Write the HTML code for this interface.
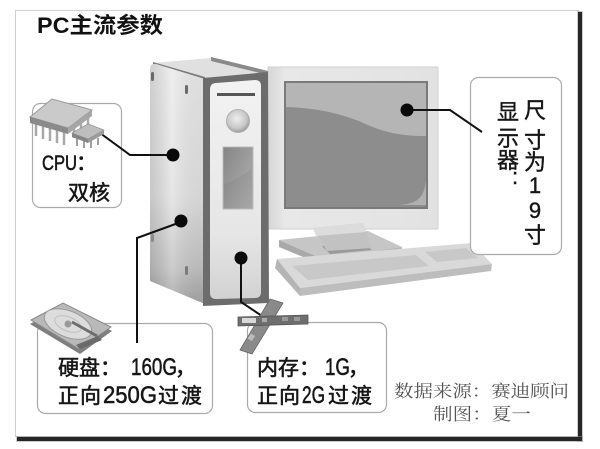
<!DOCTYPE html>
<html><head><meta charset="utf-8">
<style>
html,body{margin:0;padding:0;background:#fff;}
svg{display:block;}
.lbl{font-family:"Liberation Sans","WenQuanYi Zen Hei","Noto Sans CJK SC",sans-serif;font-size:21px;fill:#161616;stroke:#161616;stroke-width:0.55px;}
.dg{font-size:24px;}
.vt{font-family:"Liberation Sans","WenQuanYi Zen Hei","Noto Sans CJK SC",sans-serif;font-size:22px;fill:#161616;stroke:#161616;stroke-width:0.4px;}
.src{font-family:"Liberation Serif","Noto Serif CJK SC",serif;font-size:17px;fill:#555;}
</style></head>
<body>
<svg width="600" height="449" viewBox="0 0 600 449" xmlns="http://www.w3.org/2000/svg">
<defs>
<linearGradient id="side" x1="0" y1="0" x2="0" y2="1">
<stop offset="0" stop-color="#ececec"/><stop offset="0.55" stop-color="#e2e2e2"/><stop offset="0.85" stop-color="#c4c4c4"/><stop offset="1" stop-color="#a4a4a4"/>
</linearGradient>
<linearGradient id="sideh" x1="0" y1="0" x2="1" y2="0">
<stop offset="0" stop-color="#000" stop-opacity="0.12"/><stop offset="0.4" stop-color="#fff" stop-opacity="0.15"/><stop offset="1" stop-color="#000" stop-opacity="0.05"/>
</linearGradient>
<linearGradient id="front" x1="0" y1="0" x2="0" y2="1">
<stop offset="0" stop-color="#f2f2f2"/><stop offset="0.7" stop-color="#e6e6e6"/><stop offset="1" stop-color="#d2d2d2"/>
</linearGradient>
<linearGradient id="win" x1="0" y1="0" x2="1" y2="1">
<stop offset="0" stop-color="#7a7a7a"/><stop offset="0.5" stop-color="#959595"/><stop offset="1" stop-color="#a8a8a8"/>
</linearGradient>
<radialGradient id="btn" cx="0.45" cy="0.4" r="0.6">
<stop offset="0" stop-color="#eeeeee"/><stop offset="0.7" stop-color="#c8c8c8"/><stop offset="1" stop-color="#9a9a9a"/>
</radialGradient>
<linearGradient id="bezel" x1="0" y1="0" x2="1" y2="0">
<stop offset="0" stop-color="#d6d6d6"/><stop offset="0.1" stop-color="#e8e8e8"/><stop offset="1" stop-color="#e2e2e2"/>
</linearGradient>
</defs>

<!-- frame -->
<rect x="15.5" y="10.5" width="563" height="426" fill="#fff" stroke="#cfcfcf" stroke-width="1"/>
<rect x="577" y="11" width="6" height="431" fill="#9a9a9a" opacity="0.5"/>
<rect x="578" y="12" width="4" height="429" fill="#262626"/>
<rect x="16" y="436" width="567" height="6" fill="#9a9a9a" opacity="0.5"/>
<rect x="17" y="437" width="565" height="4" fill="#262626"/>

<!-- title -->
<text x="37" y="33" font-family="Liberation Sans, Noto Sans CJK SC, sans-serif" font-size="22" font-weight="bold" fill="#111" textLength="126" lengthAdjust="spacingAndGlyphs">PC主流参数</text>

<!-- monitor -->
<rect x="268" y="67" width="170" height="162" fill="url(#bezel)"/>
<rect x="268" y="67" width="170" height="162" fill="none" stroke="#d0d0d0" stroke-width="1"/>
<rect x="285" y="82" width="142" height="126" fill="#b5b5b5" stroke="#7a7a7a" stroke-width="2"/>
<path d="M286,107 C318,108 345,114 370,126 C392,135 410,136 426,136 L426,207 L286,207 Z" fill="#8d8d8d"/>
<path d="M426,180 C424,198 418,203 400,205 L426,205 Z" fill="#b0b0b0"/>

<!-- base -->
<polygon points="279,240 368,231 402,247 320,258" fill="#c6c6c6"/>
<polygon points="279,240 320,258 320,264 279,247" fill="#a9a9a9"/>
<polygon points="320,258 402,247 402,252 320,264" fill="#b7b7b7"/>
<polygon points="322,246 362,242 372,250 330,254" fill="#9a9a9a"/>
<!-- neck -->
<polygon points="313,228 363,223 372,248 327,251" fill="#c2c2c2"/>
<polygon points="313,228 363,223 366,232 316,236" fill="#dcdcdc"/>

<!-- keyboard -->
<polygon points="277,259 472,243 492,264 300,288" fill="#d9d9d9"/>
<polygon points="277,259 300,288 300,296 275,268" fill="#b4b4b4"/>
<polygon points="300,288 492,264 491,271 300,296" fill="#bdbdbd"/>
<polygon points="292,266 416,255 429,266 308,280" fill="#c8c8c8"/>
<polygon points="425,252 466,248 478,258 437,262" fill="#c8c8c8"/>

<!-- tower -->
<polygon points="153,63 211,58 268,72 205,78" fill="#e0e0e0"/>
<polygon points="153,62 205,77 205,81 153,66" fill="#7a7a7a"/>
<polygon points="211,57 268,71 268,75 211,61" fill="#8a8a8a"/>
<path d="M150,70 Q150,63 156,64 L205,79 L205,304 L150,281 Z" fill="url(#side)"/>
<path d="M150,70 Q150,63 156,64 L205,79 L205,304 L150,281 Z" fill="url(#sideh)"/>
<rect x="151" y="72" width="3" height="9" rx="1.5" fill="#6a6a6a"/>
<rect x="185" y="85" width="3" height="9" rx="1.5" fill="#6a6a6a"/>
<rect x="185" y="266" width="3" height="9" rx="1.5" fill="#7a7a7a"/>
<rect x="151" y="234" width="3" height="8" rx="1.5" fill="#8a8a8a"/>
<polygon points="203,78 268,72 269,303 203,306" fill="#6c6c6c"/>
<path d="M210,90 Q210,83 216,83 L255,80 Q261,80 261,86 L261,292 Q261,298 255,298 L216,299 Q210,299 210,293 Z" fill="url(#front)"/>
<rect x="217" y="93" width="38" height="3" fill="#555"/>
<circle cx="238" cy="121" r="11.5" fill="url(#btn)" stroke="#b0b0b0" stroke-width="1"/>
<rect x="223" y="147" width="30" height="62" fill="url(#win)" stroke="#bdbdbd" stroke-width="1"/>
<polygon points="224,148 252,148 252,170 224,185" fill="#fff" opacity="0.08"/>

<!-- boxes -->
<rect x="32.5" y="103.5" width="89" height="104" rx="8" fill="#fff" stroke="#aaa" stroke-width="1.2"/>
<rect x="470.5" y="77.5" width="91" height="177" rx="8" fill="#fff" stroke="#aaa" stroke-width="1.2"/>
<rect x="37.5" y="323.5" width="175" height="90" rx="8" fill="#fff" stroke="#aaa" stroke-width="1.2"/>
<rect x="247.5" y="322.5" width="139" height="90" rx="8" fill="#fff" stroke="#aaa" stroke-width="1.2"/>

<!-- connectors -->
<g stroke="#111" stroke-width="2" fill="none">
<polyline points="100,133 130,155 172,155"/>
<polyline points="181,222 137,238 137,343"/>
<polyline points="241,258 241,302 262,316"/>
<polyline points="407,110 450,110 482,132"/>
</g>
<g fill="#0a0a0a">
<circle cx="173" cy="155" r="6.5"/>
<circle cx="181" cy="221" r="6.5"/>
<circle cx="241" cy="258" r="6.5"/>
<circle cx="407" cy="110" r="6.5"/>
</g>

<!-- CPU icon -->
<g>
<g stroke="#a8a8a8" stroke-width="2.5">
<line x1="36" y1="122" x2="36" y2="136"/><line x1="43" y1="124" x2="43" y2="139"/>
<line x1="50" y1="126" x2="50" y2="141"/><line x1="57" y1="128" x2="57" y2="143"/>
<line x1="64" y1="130" x2="64" y2="145"/>
<line x1="74" y1="126" x2="74" y2="138"/><line x1="81" y1="122" x2="81" y2="134"/>
<line x1="88" y1="118" x2="88" y2="130"/>
</g>
<polygon points="30,117 52,99 92,110 68,128" fill="#cacaca" stroke="#999" stroke-width="1"/>
<polygon points="30,117 68,128 68,134 30,123" fill="#8a8a8a"/>
<polygon points="68,128 92,110 92,116 68,134" fill="#a6a6a6"/>
<g stroke="#a0a0a0" stroke-width="2">
<line x1="77" y1="138" x2="77" y2="146"/><line x1="84" y1="140" x2="84" y2="148"/>
<line x1="91" y1="141" x2="91" y2="148"/><line x1="98" y1="138" x2="98" y2="145"/>
</g>
<polygon points="72,133 88,124 104,130 88,139" fill="#bdbdbd" stroke="#999" stroke-width="0.8"/>
<polygon points="72,133 88,139 88,143 72,137" fill="#858585"/>
<polygon points="88,139 104,130 104,134 88,143" fill="#9a9a9a"/>
</g>

<!-- HDD icon -->
<g>
<polygon points="30,324 63,306 112,331 80,354" fill="#7e7e7e"/>
<polygon points="31,320 63,303 111,327 79,349" fill="#b9b9b9" stroke="#8a8a8a" stroke-width="1"/>
<ellipse cx="68" cy="324" rx="25" ry="13" transform="rotate(22 68 324)" fill="#dcdcdc" stroke="#999" stroke-width="1"/>
<ellipse cx="68" cy="324" rx="14" ry="7" transform="rotate(22 68 324)" fill="none" stroke="#c0c0c0" stroke-width="1"/>
<circle cx="68" cy="324" r="3.5" fill="#9a9a9a"/>
<line x1="97" y1="336" x2="72" y2="322" stroke="#6e6e6e" stroke-width="3"/>
<polygon points="76,345 98,336 102,340 80,349" fill="#6a6a6a"/>
</g>

<!-- memory icon -->
<g>
<polygon points="270,299 283,303 252,354 240,350" fill="#8a8a8a" stroke="#666" stroke-width="0.8"/>
<polygon points="238,317 308,315 308,324 238,326" fill="#6e6e6e" stroke="#555" stroke-width="0.8"/>
<rect x="242" y="318" width="14" height="5" fill="#d8d8d8"/>
<rect x="262" y="318" width="5" height="4" fill="#aaa"/>
<rect x="282" y="317" width="6" height="4" fill="#999"/>
<rect x="294" y="317" width="6" height="4" fill="#999"/>
<rect x="248" y="335" width="6" height="5" fill="#bbb" transform="rotate(-58 251 337)"/>
</g>

<!-- labels -->
<text class="lbl" x="42" y="170" font-size="22"><tspan textLength="35" lengthAdjust="spacingAndGlyphs">CPU</tspan></text>
<text class="lbl" x="76" y="170" font-size="22">：</text>
<text class="lbl" x="68" y="200" font-size="22">双核</text>

<text class="lbl" x="58" y="375">硬盘：</text>
<text class="lbl dg" x="131" y="375" textLength="46" lengthAdjust="spacingAndGlyphs">160G</text>
<text class="lbl" x="175" y="375">，</text>
<text class="lbl" x="58" y="403" letter-spacing="1">正向</text>
<text class="lbl dg" x="103" y="403" textLength="54" lengthAdjust="spacingAndGlyphs">250G</text>
<text class="lbl" x="158" y="403" letter-spacing="2">过渡</text>

<text class="lbl" x="257" y="375">内存：</text>
<text class="lbl dg" x="325" y="375" textLength="25" lengthAdjust="spacingAndGlyphs">1G</text>
<text class="lbl" x="348" y="375">，</text>
<text class="lbl" x="257" y="403" letter-spacing="1">正向</text>
<text class="lbl dg" x="302" y="403" textLength="23" lengthAdjust="spacingAndGlyphs">2G</text>
<text class="lbl" x="328" y="403" letter-spacing="2">过渡</text>

<!-- vertical monitor label -->
<g text-anchor="middle">
<text class="vt" x="508" y="120">显</text>
<text class="vt" x="508" y="146">示</text>
<text class="vt" x="508" y="168">器</text>
<text class="vt" x="515" y="184" font-size="20">:</text>
<text class="vt" x="535" y="118">尺</text>
<text class="vt" x="535" y="148">寸</text>
<text class="vt" x="535" y="170">为</text>
<text class="vt" x="535" y="193" font-size="24">1</text>
<text class="vt" x="535" y="218" font-size="24">9</text>
<text class="vt" x="535" y="243">寸</text>
</g>

<!-- source -->
<text class="src" x="394" y="397" textLength="175" lengthAdjust="spacingAndGlyphs">数据来源：赛迪顾问</text>
<text class="src" x="433" y="420" textLength="98" lengthAdjust="spacingAndGlyphs">制图：夏一</text>
</svg>
</body></html>
